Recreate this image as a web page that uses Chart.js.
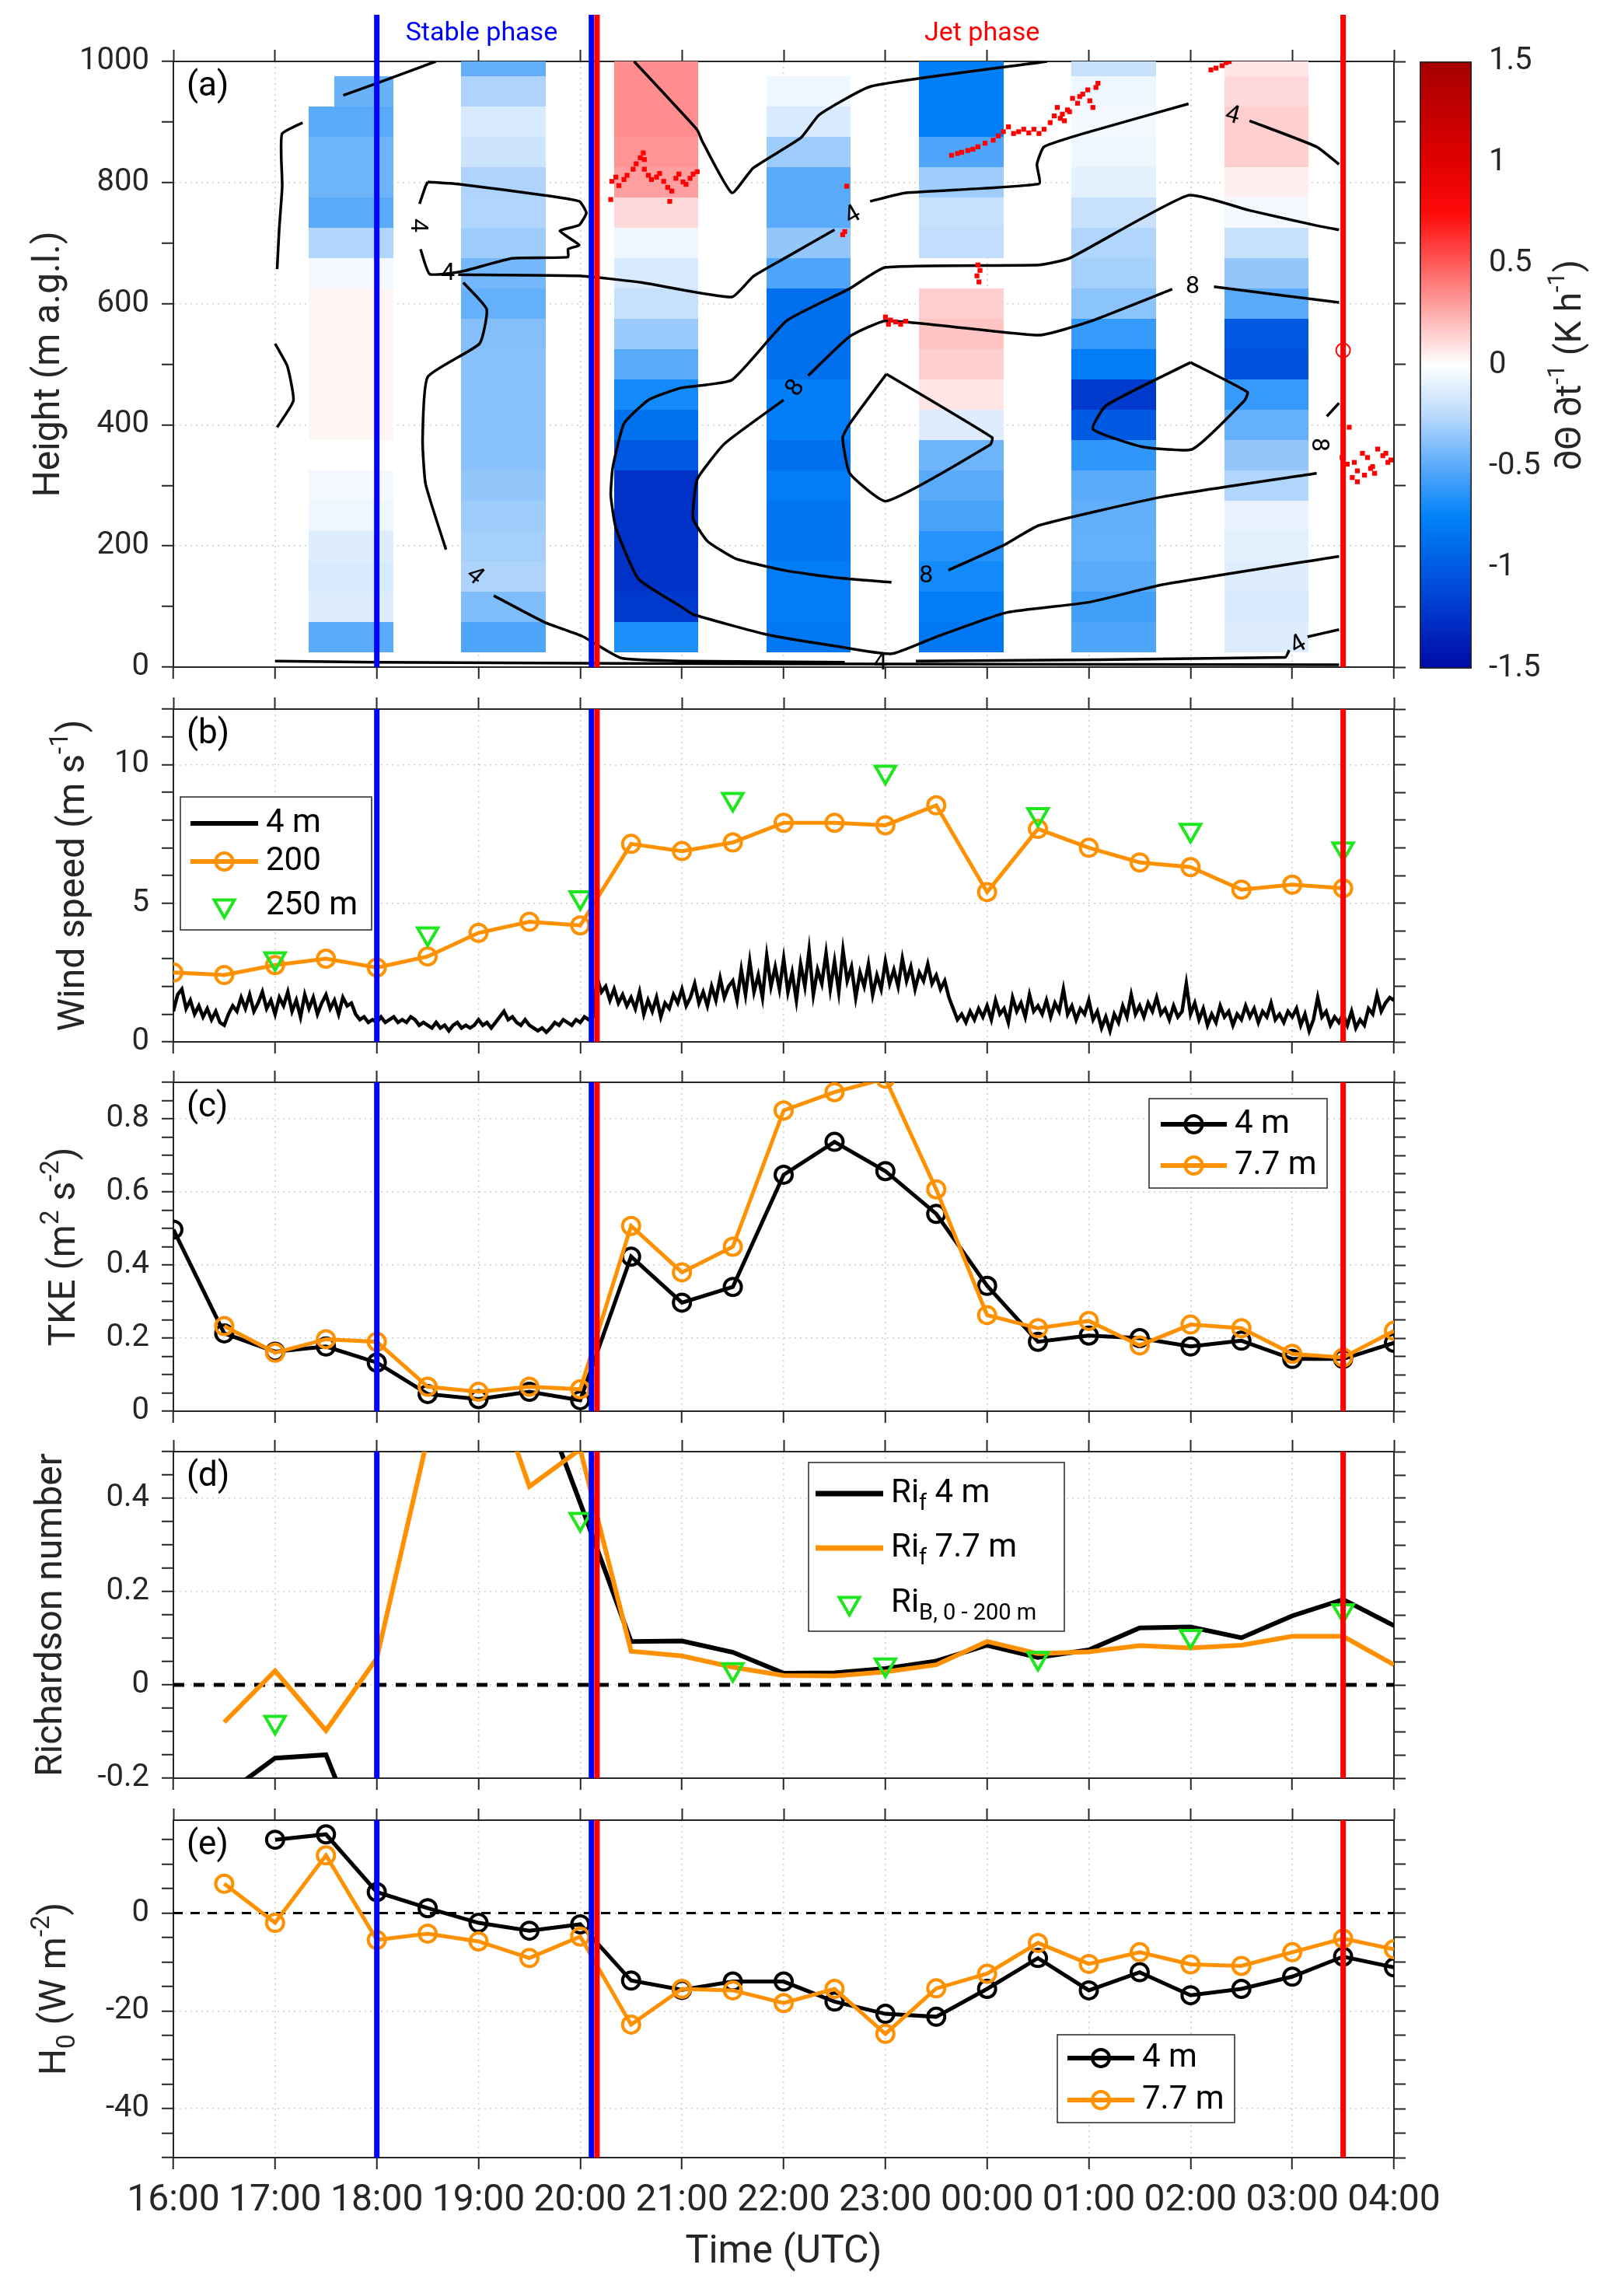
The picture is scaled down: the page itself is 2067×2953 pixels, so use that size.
<!DOCTYPE html>
<html>
<head>
<meta charset="utf-8">
<script src="https://cdn.jsdelivr.net/npm/chart.js@4.4.1/dist/chart.umd.min.js"></script>
<style>
  body { margin: 0; background: #fff; }
  #fig { position: relative; width: 2067px; height: 2953px; background: #fff; }
  .panel { position: absolute; }
</style>
</head>
<body>
<div id="fig">
  <div class="panel" style="left:0;top:0;width:1880px;height:898px"><canvas id="pa"></canvas></div>
  <div class="panel" style="left:1800px;top:0;width:267px;height:898px"><canvas id="pcb"></canvas></div>
  <div class="panel" style="left:0;top:872px;width:1880px;height:508px"><canvas id="pb"></canvas></div>
  <div class="panel" style="left:0;top:1352px;width:1880px;height:503px"><canvas id="pc"></canvas></div>
  <div class="panel" style="left:0;top:1827px;width:1880px;height:500px"><canvas id="pd"></canvas></div>
  <div class="panel" style="left:0;top:2301px;width:1880px;height:652px"><canvas id="pe"></canvas></div>
</div>
<script>
// ---- time axis (hours after 16:00 UTC) ----
const HOUR_LABELS = ['16:00', '17:00', '18:00', '19:00', '20:00', '21:00', '22:00',
                     '23:00', '00:00', '01:00', '02:00', '03:00', '04:00'];
const HALF_HOURS = [0, 0.5, 1, 1.5, 2, 2.5, 3, 3.5, 4, 4.5, 5, 5.5, 6, 6.5, 7, 7.5, 8, 8.5, 9, 9.5, 10, 10.5, 11, 11.5, 12];

// phase boundaries
const PHASE_TIMES = [2.0, 4.11, 4.165, 11.5];
const PHASE_COLORS = ['#0000ff', '#0000ff', '#ff0000', '#ff0000'];

// ---- (a) heating rate columns, rows 50..1000 m (bottom -> top) ----
const HEAT_ROWS = [50, 100, 150, 200, 250, 300, 350, 400, 450, 500, 550, 600, 650, 700, 750, 800, 850, 900, 950, 1000];
const HEAT_T0 = [1.33, 1.58, 2.83, 4.33, 5.83, 7.33, 8.83, 10.33];
const HEAT_T1 = [1.58, 2.16, 3.66, 5.16, 6.66, 8.16, 9.66, 11.16];
const HEAT_1A = [-0.5, -0.12, -0.14, -0.12, -0.06, -0.04, null, 0.03, 0.03, 0.03, 0.03, 0.03, -0.04, -0.27, -0.5, -0.45, -0.45, -0.5, null, null];
const HEAT_1B = [-0.5, -0.12, -0.14, -0.12, -0.06, -0.04, null, 0.03, 0.03, 0.03, 0.03, 0.03, -0.04, -0.27, -0.5, -0.45, -0.45, -0.5, -0.46, null];
const HEAT_2 = [-0.53, -0.4, -0.28, -0.3, -0.32, -0.35, -0.38, -0.38, -0.38, -0.38, -0.39, -0.47, -0.43, -0.32, -0.27, -0.28, -0.18, -0.14, -0.28, -0.48];
const HEAT_3 = [-0.67, -1.2, -1.25, -1.25, -1.25, -1.25, -1.0, -0.85, -0.7, -0.5, -0.33, -0.2, -0.14, -0.06, 0.12, 0.3, 0.33, 0.35, 0.35, 0.35];
const HEAT_4 = [-0.82, -0.78, -0.78, -0.84, -0.84, -0.78, -0.87, -0.78, -0.78, -0.87, -0.87, -0.87, -0.53, -0.35, -0.5, -0.5, -0.32, -0.14, -0.06, null];
const HEAT_5 = [-0.82, -0.78, -0.7, -0.65, -0.55, -0.5, -0.45, -0.12, 0.08, 0.15, 0.18, 0.15, null, -0.22, -0.2, -0.32, -0.53, -0.77, -0.77, -0.77];
const HEAT_6 = [-0.53, -0.57, -0.5, -0.47, -0.48, -0.5, -0.62, -1.0, -1.2, -0.78, -0.6, -0.37, -0.3, -0.27, -0.2, -0.1, -0.06, -0.04, -0.06, -0.2];
const HEAT_7 = [-0.12, -0.14, -0.12, -0.1, -0.08, -0.27, -0.35, -0.47, -0.6, -1.05, -1.0, -0.5, -0.35, -0.2, -0.04, 0.05, 0.15, 0.15, 0.12, 0.08];
const HEAT_COLUMNS = [HEAT_1A, HEAT_1B, HEAT_2, HEAT_3, HEAT_4, HEAT_5, HEAT_6, HEAT_7];
const HEAT_HALF = 25;

// colour scale
const CMAP_VALUES = [-1.5, -1.25, -1, -0.75, -0.5, -0.25, 0, 0.25, 0.5, 0.75, 1, 1.5];
const CMAP_COLORS = [[0, 10, 165], [0, 50, 200], [0, 90, 225], [0, 130, 250], [90, 170, 250], [185, 218, 253],
                     [255, 255, 255], [255, 175, 175], [255, 90, 90], [255, 10, 10], [225, 0, 0], [165, 0, 0]];
const CBAR_TICKS = [-1.5, -1, -0.5, 0, 0.5, 1, 1.5];

// wind speed isotachs [hour, height]
const ISO_1 = [[1.27, 899], [1.07, 881], [1.06, 845], [1.07, 794], [1.04, 722], [1.02, 657]];
const ISO_2 = [[1.0, 534], [1.12, 497], [1.18, 440], [1.02, 396]];
const ISO_3 = [[1.67, 944], [2.0, 964], [2.58, 1000]];
const ISO_4 = [[2.50, 801], [2.83, 797], [3.65, 779], [3.99, 769], [4.06, 750], [3.99, 730], [3.80, 720], [3.99, 697],
               [3.88, 690], [3.88, 677], [3.33, 675], [2.83, 653], [2.52, 649], [2.43, 690], null, [2.42, 765], [2.48, 794], [2.50, 801]];
const ISO_5 = [[2.80, 648], [3.99, 646], [4.6, 635], [5.49, 611], [5.70, 645], [6.03, 677], [6.50, 722], null,
               [6.85, 769], [7.20, 783], [8.51, 798], [8.49, 830], [8.56, 859], [9.01, 884], [9.98, 930], null,
               [10.58, 902], [11.24, 859], [11.46, 830]];
const ISO_6 = [[2.85, 635], [3.08, 591], [3.01, 534], [2.50, 479], [2.45, 375], [2.48, 302], [2.68, 194], null,
               [3.15, 118], [3.65, 74], [4.02, 51], [4.40, 15], [5.0, 10], [6.6, 8], null,
               [7.3, 10], [10.93, 16], [10.97, 28], null, [11.15, 50], [11.46, 62]];
const ISO_7 = [[1.0, 10], [2.0, 8], [4.4, 6], [7.0, 5], [11.46, 4]];
const ISO_8 = [[4.53, 1000], [5.15, 887], [5.20, 868], [5.49, 783], [5.70, 824], [6.17, 874], [6.35, 912], [6.86, 959], [8.59, 1000]];
const ISO_9 = [[11.46, 722], [11.24, 729], [10.58, 754], [9.98, 779], [8.81, 675], [8.51, 664], [7.00, 660], [6.65, 625],
               [6.03, 572], [5.49, 474], [4.99, 461], [4.67, 441], [4.43, 402], [4.32, 330], [4.30, 284], [4.35, 230],
               [4.57, 146], [4.99, 100], [5.11, 87], [5.83, 54], [6.50, 35], [7.06, 22], [7.50, 50], [8.19, 90],
               [9.0, 107], [9.72, 136], [11.46, 183]];
const ISO_10 = [[11.46, 602], [10.23, 628], null, [9.82, 624], [9.0, 570], [8.51, 548], [7.01, 572], [6.65, 546], [6.24, 481], null,
                [6.0, 441], [5.42, 369], [5.15, 310], [5.11, 245], [5.25, 208], [5.53, 179], [6.03, 159], [6.5, 148], [7.06, 140], null,
                [7.62, 160], [8.16, 201], [8.51, 234], [9.72, 281], [11.24, 320], null, [11.34, 414], [11.46, 436]];
const ISO_11 = [[7.01, 484], [8.05, 379], [8.03, 367], [7.01, 274], [6.65, 320], [6.58, 379], [6.65, 402], [7.01, 484]];
const ISO_12 = [[10.0, 503], [10.56, 454], [10.53, 440], [10.02, 360], [9.52, 364], [9.04, 393], [9.17, 432], [10.0, 503]];
const ISOTACHS = [ISO_1, ISO_2, ISO_3, ISO_4, ISO_5, ISO_6, ISO_7, ISO_8, ISO_9, ISO_10, ISO_11, ISO_12];
// [hour, height, text, rotation deg]
const ISO_LABELS = [[2.40, 729, '4', 90], [2.70, 650, '4', 0], [2.96, 150, '4', 40], [6.68, 745, '4', -30],
                    [10.41, 910, '4', 15], [6.95, 6, '4', 0], [11.06, 36, '4', -30], [6.12, 460, '8', -55],
                    [7.40, 150, '8', 0], [10.02, 628, '8', 0], [11.26, 367, '8', 90]];

// jet nose detections [hour, height]
const JET_NOSE = [[4.31, 802], [4.35, 809], [4.38, 795], [4.43, 805], [4.46, 812], [4.52, 822], [4.55, 831], [4.59, 841],
  [4.62, 849], [4.63, 838], [4.63, 822], [4.67, 812], [4.70, 805], [4.75, 809], [4.78, 815], [4.82, 802], [4.86, 792],
  [4.88, 769], [4.90, 786], [4.94, 807], [4.97, 814], [5.01, 801], [5.04, 797], [5.08, 807], [5.11, 814], [5.15, 818],
  [4.30, 772], [6.62, 794], [6.58, 714], [6.60, 719], [7.0, 578], [7.05, 573], [7.1, 570], [7.15, 566], [7.2, 571],
  [7.03, 566], [7.91, 664], [7.93, 655], [7.90, 646], [7.92, 636], [7.65, 845], [7.71, 848], [7.75, 850], [7.81, 853],
  [7.86, 855], [7.91, 859], [7.98, 865], [8.06, 870], [8.11, 877], [8.16, 884], [8.21, 892], [8.26, 881], [8.31, 884],
  [8.36, 888], [8.41, 882], [8.46, 888], [8.51, 881], [8.56, 888], [8.62, 899], [8.66, 910], [8.69, 924], [8.74, 913],
  [8.76, 902], [8.81, 917], [8.84, 939], [8.89, 931], [8.91, 942], [8.94, 946], [8.99, 953], [9.01, 935], [9.04, 924],
  [9.07, 957], [9.09, 964], [8.72, 906], [8.79, 920], [10.2, 986], [10.25, 989], [10.31, 993], [10.35, 998], [10.38, 1000],
  [11.56, 396], [11.49, 346], [11.54, 335], [11.61, 338], [11.64, 324], [11.69, 353], [11.74, 346], [11.79, 331],
  [11.84, 360], [11.89, 349], [11.94, 338], [11.59, 313], [11.71, 317], [11.81, 320], [11.92, 353], [11.97, 342],
  [11.64, 306], [11.77, 328]];
const JET_NOSE_OPEN = [[11.5, 523]];

// ---- (b) wind speed ----
const WS_4M_STEP_MIN = 2.5;
const WS_4M = [
  1.1, 1.7, 1.9, 1.2, 1.5, 1.0, 1.3, 0.9, 1.2, 0.8, 1.1, 0.7,
  0.6, 1.0, 1.3, 1.1, 1.6, 1.2, 1.7, 1.1, 1.4, 1.8, 1.2, 1.5,
  1.0, 1.6, 1.3, 1.8, 1.1, 1.5, 0.9, 1.7, 1.2, 1.6, 1.0, 1.4,
  1.7, 1.2, 1.5, 1.0, 1.6, 1.3, 1.4, 1.0, 0.8, 0.9, 0.7, 0.8,
  0.7, 0.9, 0.7, 0.8, 0.9, 0.7, 0.8, 0.7, 0.9, 0.8, 0.6, 0.7,
  0.6, 0.5, 0.7, 0.5, 0.6, 0.4, 0.6, 0.7, 0.5, 0.6, 0.5, 0.6,
  0.8, 0.6, 0.7, 0.5, 0.7, 0.9, 1.1, 0.8, 0.9, 0.7, 0.6, 0.8,
  0.6, 0.5, 0.4, 0.5, 0.35, 0.5, 0.7, 0.6, 0.8, 0.7, 0.6, 0.8,
  0.7, 0.9, 0.8, 0.9, 2.3, 1.8, 2.0, 1.5, 1.9, 1.4, 1.7, 1.3,
  1.6, 1.2, 1.8, 1.0, 1.5, 1.1, 1.6, 0.9, 1.4, 1.2, 1.7, 1.4,
  1.9, 1.3, 1.6, 2.1, 1.4, 1.8, 1.3, 2.0, 1.5, 2.3, 1.6, 2.0,
  2.2, 1.5, 2.6, 1.7, 2.9, 1.8, 2.4, 1.6, 3.1, 2.0, 2.7, 1.9,
  3.0, 1.8, 2.5, 1.5, 2.8, 2.0, 3.3, 1.7, 2.6, 2.1, 3.2, 1.9,
  2.9, 1.8, 3.3, 2.2, 2.7, 1.6, 2.5, 2.0, 2.8, 1.7, 2.4, 1.9,
  2.9, 2.1, 2.6, 2.0, 3.0, 2.2, 2.7, 1.9, 2.5, 2.2, 2.8, 2.1,
  2.4, 1.9, 2.2, 1.6, 1.2, 0.8, 1.0, 0.7, 1.1, 0.8, 1.2, 0.9,
  1.3, 0.8, 1.5, 1.0, 1.2, 0.7, 1.6, 1.1, 1.4, 0.9, 1.7, 1.1,
  1.3, 1.0, 1.5, 0.9, 1.4, 1.1, 1.9, 1.0, 1.3, 0.8, 1.2, 1.0,
  1.5, 0.8, 1.1, 0.5, 0.9, 0.4, 1.0, 0.7, 1.3, 0.9, 1.7, 1.0,
  1.3, 0.9, 1.4, 1.1, 1.6, 1.0, 1.2, 0.8, 1.3, 0.9, 1.1, 2.1,
  1.0, 1.4, 0.8, 1.2, 0.6, 1.0, 0.7, 1.3, 0.9, 1.1, 0.6, 1.0,
  0.8, 1.3, 0.9, 1.2, 0.7, 1.1, 0.9, 1.4, 0.8, 1.0, 0.7, 1.1,
  0.9, 1.2, 0.6, 1.0, 0.4, 0.8, 1.6, 0.9, 1.1, 0.6, 0.9, 0.7,
  1.0, 0.6, 1.1, 0.5, 0.8, 0.6, 1.2, 1.0, 1.7, 1.1, 1.4, 1.6,
  1.5];
const WS_200M = [2.5, 2.41, 2.77, 3.0, 2.68, 3.08, 3.93, 4.33, 4.2, 7.14, 6.88, 7.19, 7.9, 7.9, 7.81, 8.53,
                 5.4, 7.68, 7.0, 6.47, 6.3, 5.49, 5.67, 5.54, null];
const WS_250M_T = [1, 2.5, 4, 5.5, 7, 8.5, 10, 11.5];
const WS_250M = [3.0, 3.9, 5.2, 8.75, 9.73, 8.2, 7.63, 6.96];

// ---- (c) TKE ----
const TKE_4M = [0.497, 0.213, 0.163, 0.177, 0.133, 0.047, 0.033, 0.053, 0.03, 0.423, 0.297, 0.34, 0.647, 0.737,
                0.657, 0.54, 0.343, 0.19, 0.207, 0.2, 0.177, 0.193, 0.143, 0.143, 0.187];
const TKE_77M = [null, 0.233, 0.16, 0.197, 0.19, 0.067, 0.053, 0.067, 0.06, 0.507, 0.38, 0.45, 0.823, 0.873,
                 0.91, 0.607, 0.263, 0.227, 0.247, 0.18, 0.237, 0.227, 0.157, 0.147, 0.22];

// ---- (d) Richardson numbers ----
const RIF_4M = [null, -0.237, -0.157, -0.15, -0.42, null, null, 0.68, 0.39, 0.093, 0.094, 0.07, 0.025, 0.026,
                0.035, 0.051, 0.085, 0.059, 0.075, 0.122, 0.124, 0.101, 0.148, 0.183, 0.127];
const RIF_77M = [null, -0.08, 0.03, -0.098, 0.057, 0.53, 0.74, 0.425, 0.505, 0.072, 0.062, 0.038, 0.02, 0.019,
                 0.028, 0.043, 0.093, 0.067, 0.071, 0.084, 0.079, 0.085, 0.104, 0.104, 0.043];
const RIB_T = [1, 4, 5.5, 7, 8.5, 10, 11.5];
const RIB = [-0.08, 0.355, 0.033, 0.043, 0.057, 0.104, 0.159];

// ---- (e) sensible heat flux ----
const H0_4M = [null, null, 15, 16.1, 4.3, 1.0, -2.0, -3.6, -2.3, -13.8, -15.7, -14.0, -14.0, -18.1, -20.6,
               -21.2, -15.5, -9.2, -15.8, -12.1, -16.8, -15.5, -13.0, -8.9, -11.1];
const H0_77M = [null, 6.0, -2.0, 11.8, -5.5, -4.2, -5.8, -9.2, -4.8, -22.8, -15.5, -15.8, -18.4, -15.5, -24.7,
                -15.4, -12.4, -6.1, -10.4, -8.0, -10.5, -10.8, -8.0, -5.2, -7.4];

const ZERO_X = [0, 12];

// ---- styling ----
const FONT = 'Roboto, "Liberation Sans", Arial, sans-serif';
const AXIS_COLOR = '#262626';
const GRID_COLOR = '#cfcfcf';
const ORANGE = 'rgb(255,145,0)';
const GREEN = 'rgb(30,230,30)';
const LEFT_W = 223;
const RIGHT_W = 87;

Chart.defaults.font.family = FONT;
Chart.defaults.color = AXIS_COLOR;
Chart.defaults.animation = false;

const rgb = c => `rgb(${c[0]},${c[1]},${c[2]})`;

function cmap(v) {
    if (v <= CMAP_VALUES[0]) return rgb(CMAP_COLORS[0]);
    for (let i = 1; i < CMAP_VALUES.length; i++) {
        if (v <= CMAP_VALUES[i]) {
            const f = (v - CMAP_VALUES[i - 1]) / (CMAP_VALUES[i] - CMAP_VALUES[i - 1]);
            const a = CMAP_COLORS[i - 1], b = CMAP_COLORS[i];
            return rgb(a.map((c, k) => Math.round(c + f * (b[k] - c))));
        }
    }
    return rgb(CMAP_COLORS[CMAP_COLORS.length - 1]);
}

const isMajor = (v, major) => Math.abs(v / major - Math.round(v / major)) < 1e-6;
const fmtNum = v => String(+v.toFixed(2));
const pairs = pts => pts.map(p => p ? { x: p[0], y: p[1] } : { x: NaN, y: NaN });
const halfHourly = vals => HALF_HOURS.map((t, i) => ({ x: t, y: vals[i] }));

// text with super/subscripts, segs = [[text, 0 | 1 (sup) | -1 (sub)], ...]
function drawRich(ctx, segs, size, x, y, align) {
    const small = Math.round(size * 0.68);
    const widths = segs.map(([t, m]) => {
        ctx.font = `${m ? small : size}px ${FONT}`;
        return ctx.measureText(t).width;
    });
    const total = widths.reduce((s, w) => s + w, 0);
    let cx = align === 'left' ? x : x - total / 2;
    ctx.textAlign = 'left';
    ctx.textBaseline = 'middle';
    segs.forEach(([t, m], i) => {
        ctx.font = `${m ? small : size}px ${FONT}`;
        const dy = m === 1 ? -size * 0.36 : m === -1 ? size * 0.32 : 0;
        ctx.fillText(t, cx, y + dy);
        cx += widths[i];
    });
}

function drawMarker(ctx, kind, x, y, color) {
    ctx.save();
    ctx.strokeStyle = color;
    ctx.lineWidth = 4;
    ctx.beginPath();
    if (kind === 'circle') {
        ctx.arc(x, y, 11, 0, Math.PI * 2);
    } else {
        const r = 15;
        ctx.moveTo(x, y + r);
        ctx.lineTo(x - r * 0.866, y - r / 2);
        ctx.lineTo(x + r * 0.866, y - r / 2);
        ctx.closePath();
    }
    ctx.stroke();
    ctx.restore();
}

// ---- scales ----
function yScales(min, max, step, major) {
    return {
        y: {
            type: 'linear', position: 'left', min, max,
            ticks: { stepSize: step, autoSkip: false, includeBounds: false, padding: 16, font: { size: 40 },
                     callback: v => isMajor(v, major) ? fmtNum(v) : '' },
            grid: { color: c => (c.tick && isMajor(c.tick.value, major)) ? GRID_COLOR : 'rgba(0,0,0,0)',
                    lineWidth: 1.5, tickLength: 15, tickWidth: 2, tickColor: AXIS_COLOR },
            border: { color: AXIS_COLOR, width: 2, dash: [2, 5] },
            afterFit: s => { s.width = LEFT_W; }
        },
        y2: {
            type: 'linear', position: 'right', min, max,
            ticks: { stepSize: step, autoSkip: false, includeBounds: false, display: false },
            grid: { drawOnChartArea: false, tickLength: 15, tickWidth: 2, tickColor: AXIS_COLOR },
            border: { color: AXIS_COLOR, width: 2 },
            afterFit: s => { s.width = RIGHT_W; }
        }
    };
}

function xScales(topH, bottomH, showLabels) {
    return {
        x: {
            type: 'linear', position: 'bottom', min: 0, max: 12,
            ticks: { stepSize: 1, autoSkip: false, includeBounds: false, display: showLabels, maxRotation: 0,
                     padding: 12, font: { size: 48 }, callback: v => HOUR_LABELS[Math.round(v)] },
            grid: { color: GRID_COLOR, lineWidth: 1.5, tickLength: 15, tickWidth: 2, tickColor: AXIS_COLOR },
            border: { color: AXIS_COLOR, width: 2, dash: [2, 5] },
            afterFit: s => { s.height = bottomH; }
        },
        x2: {
            type: 'linear', position: 'top', min: 0, max: 12,
            ticks: { stepSize: 1, autoSkip: false, display: false },
            grid: { drawOnChartArea: false, tickLength: 15, tickWidth: 2, tickColor: AXIS_COLOR },
            border: { color: AXIS_COLOR, width: 2 },
            afterFit: s => { s.height = topH; }
        }
    };
}

// ---- plugins ----
const heatCells = {
    id: 'heatCells',
    beforeDatasetsDraw(chart) {
        const { ctx, chartArea: a, scales: { x, y } } = chart;
        ctx.save();
        ctx.beginPath();
        ctx.rect(a.left, a.top, a.width, a.height);
        ctx.clip();
        HEAT_COLUMNS.forEach((col, i) => {
            const x0 = Math.round(x.getPixelForValue(HEAT_T0[i]));
            const x1 = Math.round(x.getPixelForValue(HEAT_T1[i]));
            col.forEach((v, k) => {
                if (v === null) return;
                const ya = Math.round(y.getPixelForValue(HEAT_ROWS[k] + HEAT_HALF));
                const yb = Math.round(y.getPixelForValue(HEAT_ROWS[k] - HEAT_HALF));
                ctx.fillStyle = cmap(v);
                ctx.fillRect(x0, ya, x1 - x0, yb - ya);
            });
        });
        ctx.restore();
    }
};

const isoLabels = {
    id: 'isoLabels',
    afterDatasetsDraw(chart) {
        const { ctx, scales: { x, y } } = chart;
        ctx.save();
        ctx.fillStyle = '#000';
        ctx.font = `32px ${FONT}`;
        ctx.textAlign = 'center';
        ctx.textBaseline = 'middle';
        ISO_LABELS.forEach(([t, h, txt, rot]) => {
            ctx.save();
            ctx.translate(x.getPixelForValue(t), y.getPixelForValue(h));
            ctx.rotate(rot * Math.PI / 180);
            ctx.fillText(txt, 0, 0);
            ctx.restore();
        });
        ctx.restore();
    }
};

const phaseLines = {
    id: 'phaseLines',
    afterDatasetsDraw(chart, args, opts) {
        const { ctx, chartArea: a, scales: { x } } = chart;
        const top = opts.top !== undefined ? opts.top : a.top;
        ctx.save();
        ctx.lineWidth = 7;
        PHASE_TIMES.forEach((t, i) => {
            const px = x.getPixelForValue(t);
            ctx.strokeStyle = PHASE_COLORS[i];
            ctx.beginPath();
            ctx.moveTo(px, top);
            ctx.lineTo(px, a.bottom);
            ctx.stroke();
        });
        if (opts.labels) {
            ctx.font = `34px ${FONT}`;
            ctx.textAlign = 'center';
            ctx.textBaseline = 'middle';
            ctx.fillStyle = '#0000ff';
            ctx.fillText('Stable phase', x.getPixelForValue(3.03), 43);
            ctx.fillStyle = '#ff0000';
            ctx.fillText('Jet phase', x.getPixelForValue(7.95), 43);
        }
        ctx.restore();
    }
};

const panelDecor = {
    id: 'panelDecor',
    afterDraw(chart, args, o) {
        const { ctx, chartArea: a } = chart;
        ctx.save();
        ctx.fillStyle = '#000';
        if (o.letter) {
            ctx.font = `44px ${FONT}`;
            ctx.textAlign = 'left';
            ctx.textBaseline = 'middle';
            ctx.fillText(o.letter, a.left + 17, a.top + 33);
        }
        ctx.fillStyle = AXIS_COLOR;
        if (o.ytitle) {
            ctx.save();
            ctx.translate(o.ytitleX, (a.top + a.bottom) / 2);
            ctx.rotate(-Math.PI / 2);
            drawRich(ctx, o.ytitle, 48, 0, 0, 'center');
            ctx.restore();
        }
        if (o.xtitle) {
            drawRich(ctx, o.xtitle, 50, (a.left + a.right) / 2, o.xtitleY, 'center');
        }
        if (o.legend) {
            const L = o.legend;
            const [l, t, r, b] = L.box;
            ctx.fillStyle = '#fff';
            ctx.fillRect(a.left + l, a.top + t, r - l, b - t);
            ctx.strokeStyle = AXIS_COLOR;
            ctx.lineWidth = 1.5;
            ctx.strokeRect(a.left + l, a.top + t, r - l, b - t);
            L.items.forEach(it => {
                const yy = a.top + it.y;
                const x0 = a.left + L.lineX[0], x1 = a.left + L.lineX[1];
                if (it.line) {
                    ctx.strokeStyle = it.color;
                    ctx.lineWidth = it.line;
                    ctx.beginPath();
                    ctx.moveTo(x0, yy);
                    ctx.lineTo(x1, yy);
                    ctx.stroke();
                }
                if (it.marker) drawMarker(ctx, it.marker, (x0 + x1) / 2, yy, it.color);
                ctx.fillStyle = '#000';
                drawRich(ctx, it.text, 42, a.left + L.textX, yy, 'left');
            });
        }
        ctx.restore();
    }
};

function baseOptions(scales, decor, phaseOpts) {
    return {
        responsive: true,
        maintainAspectRatio: false,
        devicePixelRatio: 1,
        animation: false,
        layout: { padding: 0 },
        scales,
        plugins: {
            legend: { display: false },
            tooltip: { enabled: false },
            panelDecor: decor,
            phaseLines: phaseOpts || {}
        }
    };
}

const lineMarkers = (color) => ({
    borderColor: color, borderWidth: 5, pointRadius: 11, pointBorderWidth: 4,
    pointBorderColor: color, pointBackgroundColor: 'rgba(0,0,0,0)', pointStyle: 'circle', tension: 0
});

// ---- panel (a) ----
new Chart(document.getElementById('pa'), {
    type: 'line',
    data: {
        datasets: [
            { type: 'scatter', data: pairs(JET_NOSE), pointStyle: 'rect', pointRadius: 4.4, pointBorderWidth: 0,
              pointBackgroundColor: '#ff0000' },
            { type: 'scatter', data: pairs(JET_NOSE_OPEN), pointStyle: 'circle', pointRadius: 9, pointBorderWidth: 2,
              pointBorderColor: '#ff0000', pointBackgroundColor: 'rgba(0,0,0,0)' },
            ...ISOTACHS.map(c => ({ data: pairs(c), borderColor: '#000', borderWidth: 3.5, pointRadius: 0,
                                    tension: 0.15, spanGaps: false }))
        ]
    },
    options: baseOptions(
        { ...xScales(79, 30, false), ...yScales(0, 1000, 100, 200) },
        { letter: '(a)', ytitle: [['Height (m a.g.l.)', 0]], ytitleX: 64 },
        { top: 19, labels: true }),
    plugins: [heatCells, isoLabels, phaseLines, panelDecor]
});

// ---- colour bar ----
new Chart(document.getElementById('pcb'), {
    type: 'bar',
    data: {
        labels: ['cb'],
        datasets: [{
            data: [[CBAR_TICKS[0], CBAR_TICKS[CBAR_TICKS.length - 1]]],
            backgroundColor: c => {
                const a = c.chart.chartArea;
                if (!a) return '#fff';
                const g = c.chart.ctx.createLinearGradient(0, a.bottom, 0, a.top);
                CMAP_VALUES.forEach((v, i) => g.addColorStop((v + 1.5) / 3, rgb(CMAP_COLORS[i])));
                return g;
            },
            borderColor: AXIS_COLOR, borderWidth: 2, borderSkipped: false,
            barPercentage: 1, categoryPercentage: 1
        }]
    },
    options: {
        responsive: true, maintainAspectRatio: false, devicePixelRatio: 1, animation: false,
        layout: { padding: { left: 26, top: 79, bottom: 30 } },
        scales: {
            x: { display: false },
            y: {
                position: 'right', min: -1.5, max: 1.5,
                ticks: { stepSize: 0.5, padding: 14, font: { size: 40 }, callback: v => fmtNum(v) },
                grid: { display: false },
                border: { display: false },
                afterFit: s => { s.width = 174; }
            }
        },
        plugins: {
            legend: { display: false }, tooltip: { enabled: false },
            cbTitle: {}
        }
    },
    plugins: [{
        id: 'cbTitle',
        afterDraw(chart) {
            const { ctx, chartArea: a } = chart;
            ctx.save();
            ctx.fillStyle = AXIS_COLOR;
            ctx.translate(221, (a.top + a.bottom) / 2);
            ctx.rotate(-Math.PI / 2);
            drawRich(ctx, [['\u2202\u0398 \u2202t', 0], ['-1', 1], [' (K h', 0], ['-1', 1], [')', 0]], 46, 0, 0, 'center');
            ctx.restore();
        }
    }]
});

// ---- panel (b) ----
new Chart(document.getElementById('pb'), {
    type: 'line',
    data: {
        datasets: [
            { type: 'scatter', data: WS_250M_T.map((t, i) => ({ x: t, y: WS_250M[i] })), pointStyle: 'triangle',
              rotation: 180, pointRadius: 15, pointBorderWidth: 4, pointBorderColor: GREEN,
              pointBackgroundColor: 'rgba(0,0,0,0)' },
            { data: halfHourly(WS_200M), ...lineMarkers(ORANGE) },
            { data: WS_4M.map((v, i) => ({ x: i * WS_4M_STEP_MIN / 60, y: v })), borderColor: '#000',
              borderWidth: 4.5, pointRadius: 0, tension: 0 }
        ]
    },
    options: baseOptions(
        { ...xScales(30, 30, false), ...yScales(0, 12, 1, 5) },
        { letter: '(b)', ytitle: [['Wind speed (m s', 0], ['-1', 1], [')', 0]], ytitleX: 96,
          legend: { box: [9, 113, 255, 284], lineX: [22, 109], textX: 119,
                    items: [{ y: 147, line: 6, color: '#000', text: [['4 m', 0]] },
                            { y: 196, line: 6, color: ORANGE, marker: 'circle', text: [['200', 0]] },
                            { y: 253, color: GREEN, marker: 'triangle', text: [['250 m', 0]] }] } }),
    plugins: [phaseLines, panelDecor]
});

// ---- panel (c) ----
new Chart(document.getElementById('pc'), {
    type: 'line',
    data: {
        datasets: [
            { data: halfHourly(TKE_77M), ...lineMarkers(ORANGE) },
            { data: halfHourly(TKE_4M), ...lineMarkers('#000') }
        ]
    },
    options: baseOptions(
        { ...xScales(30, 30, false), ...yScales(0, 0.9, 0.05, 0.2) },
        { letter: '(c)', ytitle: [['TKE (m', 0], ['2', 1], [' s', 0], ['-2', 1], [')', 0]], ytitleX: 84,
          legend: { box: [1255, 21, 1484, 136], lineX: [1270, 1355], textX: 1365,
                    items: [{ y: 54, line: 6, color: '#000', marker: 'circle', text: [['4 m', 0]] },
                            { y: 107, line: 6, color: ORANGE, marker: 'circle', text: [['7.7 m', 0]] }] } }),
    plugins: [phaseLines, panelDecor]
});

// ---- panel (d) ----
new Chart(document.getElementById('pd'), {
    type: 'line',
    data: {
        datasets: [
            { type: 'scatter', data: RIB_T.map((t, i) => ({ x: t, y: RIB[i] })), pointStyle: 'triangle',
              rotation: 180, pointRadius: 15, pointBorderWidth: 4, pointBorderColor: GREEN,
              pointBackgroundColor: 'rgba(0,0,0,0)' },
            { data: halfHourly(RIF_77M), borderColor: ORANGE, borderWidth: 6, pointRadius: 0, tension: 0 },
            { data: halfHourly(RIF_4M), borderColor: '#000', borderWidth: 6, pointRadius: 0, tension: 0 },
            { data: ZERO_X.map(t => ({ x: t, y: 0 })), borderColor: '#000', borderWidth: 5,
              borderDash: [14, 12], pointRadius: 0 }
        ]
    },
    options: baseOptions(
        { ...xScales(30, 30, false), ...yScales(-0.2, 0.5, 0.05, 0.2) },
        { letter: '(d)', ytitle: [['Richardson number', 0]], ytitleX: 67,
          legend: { box: [817, 14, 1146, 231], lineX: [826, 913], textX: 923,
                    items: [{ y: 54, line: 7, color: '#000', text: [['Ri', 0], ['f', -1], [' 4 m', 0]] },
                            { y: 124, line: 7, color: ORANGE, text: [['Ri', 0], ['f', -1], [' 7.7 m', 0]] },
                            { y: 195, color: GREEN, marker: 'triangle', text: [['Ri', 0], ['B, 0 - 200 m', -1]] }] } }),
    plugins: [phaseLines, panelDecor]
});

// ---- panel (e) ----
new Chart(document.getElementById('pe'), {
    type: 'line',
    data: {
        datasets: [
            { data: halfHourly(H0_77M), ...lineMarkers(ORANGE) },
            { data: halfHourly(H0_4M), ...lineMarkers('#000') },
            { data: ZERO_X.map(t => ({ x: t, y: 0 })), borderColor: '#000', borderWidth: 3,
              borderDash: [12, 10], pointRadius: 0 }
        ]
    },
    options: baseOptions(
        { ...xScales(30, 178, true), ...yScales(-50, 19, 5, 20) },
        { letter: '(e)', ytitle: [['H', 0], ['0', -1], [' (W m', 0], ['-2', 1], [')', 0]], ytitleX: 72,
          xtitle: [['Time (UTC)', 0]], xtitleY: 596,
          legend: { box: [1137, 276, 1365, 389], lineX: [1150, 1236], textX: 1246,
                    items: [{ y: 306, line: 6, color: '#000', marker: 'circle', text: [['4 m', 0]] },
                            { y: 360, line: 6, color: ORANGE, marker: 'circle', text: [['7.7 m', 0]] }] } }),
    plugins: [phaseLines, panelDecor]
});
</script>
</body>
</html>
